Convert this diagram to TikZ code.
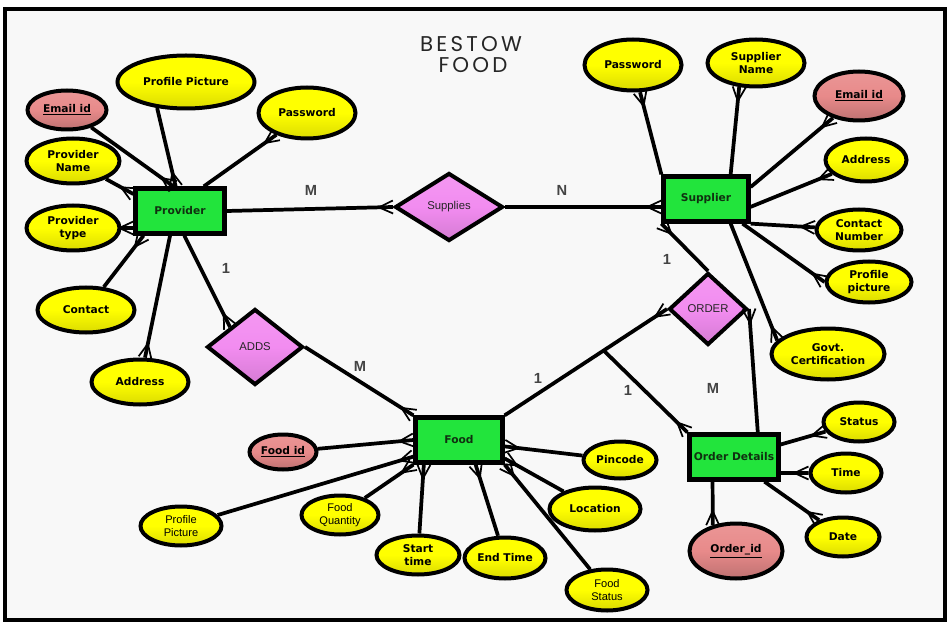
\documentclass[tikz,border=0pt]{standalone}
\usepackage{fontspec}
\setmainfont{DejaVu Sans}
\newfontfamily\arialf{Liberation Sans}
\newfontfamily\titlef{Poppins}[LetterSpace=15]
\usetikzlibrary{shapes.geometric,decorations.markings,calc}
\definecolor{bgc}{HTML}{F8F8F8}
\definecolor{entc}{HTML}{22E43C}
\definecolor{keyc}{HTML}{E88A8A}
\definecolor{relc}{HTML}{F28CF0}
\definecolor{lblc}{HTML}{444444}
\definecolor{enttext}{HTML}{103010}
\tikzset{
  attr/.style={ellipse, draw=black, line width=3pt, top color=yellow, bottom color=yellow!86!black, middle color=yellow, inner sep=0pt, align=center, text=black, font=\bfseries\fontsize{8}{9.5}\selectfont},
  attrr/.style={attr, font=\arialf\fontsize{8.3}{9.5}\selectfont},
  keyattr/.style={attr, top color=keyc!90!white, bottom color=keyc!82!black, middle color=keyc},
  entity/.style={rectangle, draw=black, line width=3.2pt, fill=entc, inner sep=0pt, align=center, text=enttext, font=\bfseries\fontsize{8}{9.5}\selectfont},
  rel/.style={diamond, draw=black, line width=3pt, top color=relc!90!white, bottom color=relc!88!black, middle color=relc, inner sep=0pt, text=black!85, font=\arialf\fontsize{8.5}{10}\selectfont},
  card/.style={text=lblc, font=\arialf\bfseries\fontsize{11}{13}\selectfont},
  titletext/.style={text=black!85, inner sep=0pt, anchor=base, text height=11.5pt, text depth=0pt, font=\titlef\fontsize{16}{16}\selectfont},
  conn/.style={line width=2.8pt},
  crowtip/.style={decorate, decoration={markings, mark=at position 0.9999 with {\draw[line width=1.3pt] (-14,0) -- (0,6.5) (-14,0) -- (0,-6.5);}}},
  crow/.style={conn, postaction={crowtip}}
}
\begin{document}
\begin{tikzpicture}[x=0.75pt,y=-0.75pt]
\useasboundingbox (0,0) rectangle (948,623);
\fill[white] (0,0) rectangle (948,623);
\draw[line width=3pt, fill=bgc] (5,9.5) rectangle (944.5,619.5);

\node[titletext] (title1) at (471,52) {BESTOW};
\node[titletext] (title2) at (473,73) {FOOD};

% Provider group
\node[entity, minimum width=66.75pt, minimum height=33.75pt] (prov) at (180,211) {Provider};
\node[keyattr, minimum width=59.25pt, minimum height=29.25pt] (email) at (67,110) {\underline{Email id}};
\node[attr, minimum width=102.75pt, minimum height=39.75pt] (pp) at (186,82) {Profile Picture};
\node[attr, minimum width=72.75pt, minimum height=38.25pt] (pwd) at (307,113) {Password};
\node[attr, minimum width=69.75pt, minimum height=33.75pt] (pname) at (73,161) {Provider\\Name};
\node[attr, minimum width=69.75pt, minimum height=33.75pt] (ptype) at (73,228) {Provider\\type};
\node[attr, minimum width=72.75pt, minimum height=33.75pt] (contact) at (86,310) {Contact};
\node[attr, minimum width=72.75pt, minimum height=33.75pt] (addr) at (140,382) {Address};

% Relationships
\node[rel, minimum width=81pt, minimum height=51pt] (sup) at (449,207) {Supplies};
\node[rel, minimum width=72pt, minimum height=57pt] (adds) at (255,347) {ADDS};
\node[rel, minimum width=58.5pt, minimum height=54pt] (order) at (708,309) {ORDER};

% Supplier group
\node[entity, minimum width=63.75pt, minimum height=33.75pt] (supr) at (706,199) {Supplier};
\node[attr, minimum width=72.75pt, minimum height=38.25pt] (spwd) at (633,65) {Password};
\node[attr, minimum width=72.75pt, minimum height=35.25pt] (sname) at (756,63) {Supplier\\Name};
\node[keyattr, minimum width=66.75pt, minimum height=36.75pt] (semail) at (859,96) {\underline{Email id}};
\node[attr, minimum width=60.75pt, minimum height=32.25pt] (saddr) at (866,160) {Address};
\node[attr, minimum width=63.75pt, minimum height=30.75pt] (scontact) at (859,230) {Contact\\Number};
\node[attr, minimum width=63.75pt, minimum height=30.75pt] (spp) at (869,282) {Profile\\picture};
\node[attr, minimum width=84.75pt, minimum height=38.25pt] (sgovt) at (828,354) {Govt.\\Certification};

% Food group
\node[entity, minimum width=65.25pt, minimum height=33.75pt] (food) at (459,440) {Food};
\node[keyattr, minimum width=50.25pt, minimum height=26.25pt] (fid) at (283,452) {\underline{Food id}};
\node[attrr, minimum width=60.75pt, minimum height=29.25pt] (fpp) at (181,526) {Profile\\Picture};
\node[attrr, minimum width=57.75pt, minimum height=29.25pt] (fqty) at (340,515) {Food\\Quantity};
\node[attr, minimum width=62.25pt, minimum height=29.25pt] (fstart) at (418,555) {Start\\time};
\node[attr, minimum width=60.75pt, minimum height=30.75pt] (fend) at (505,558) {End Time};
\node[attr, minimum width=54.75pt, minimum height=27.75pt] (fpin) at (620,460) {Pincode};
\node[attr, minimum width=68.25pt, minimum height=32.25pt] (floc) at (595,509) {Location};
\node[attrr, minimum width=60.75pt, minimum height=30.75pt] (fstatus) at (607,590) {Food\\Status};

% Order details group
\node[entity, minimum width=66.75pt, minimum height=33.75pt] (od) at (734,457) {Order Details};
\node[attr, minimum width=53.25pt, minimum height=29.25pt] (ostatus) at (859,422) {Status};
\node[attr, minimum width=53.25pt, minimum height=29.25pt] (otime) at (846,473) {Time};
\node[attr, minimum width=54.75pt, minimum height=29.25pt] (odate) at (843,537) {Date};
\node[keyattr, minimum width=69.75pt, minimum height=41.25pt] (oid) at (736,551) {\underline{Order\_id}};

% Provider connectors
\draw[crow] (email) -- (prov.105);
\draw[crow] (pp.222) -- (prov.100);
\draw[crow] (prov.46) -- (pwd);
\draw[crow] (pname) -- (prov.160);
\draw[crow] (ptype) -- (prov.200);
\draw[crow] (contact) -- (prov.214);
\draw[crow] (prov.248) -- (addr);
\draw[crow] (prov.280) -- (adds.north west);
\draw[crow] (prov.east) -- (sup.west);
\draw[crow] (sup.east) -- (sup.east -| supr.west);

% Supplier connectors
\draw[crow] (supr.north west) -- (spwd);
\draw[crow] (supr.45) -- (sname.235);
\draw[crow] (supr.15) -- (semail);
\draw[crow] (supr.-10) -- (saddr);
\draw[crow] (supr.south east) -- (scontact);
\draw[crow] (supr.-34) -- (spp.west);
\draw[crow] (supr.-45) -- (sgovt.165);
\draw[crow] (order.north) -- (supr.south west);

% Order connectors
\draw[crow] (food.north east) -- (order.west);
\coordinate (br) at ($(food.north east)!0.61!(order.west)$);
\draw[crow] (br) -- (od.north west);
\draw[crow] (od.46) -- (order.east);
\draw[crow] (adds.east) -- (food.north west);

% Food connectors
\draw[crow] (fid) -- (food.west);
\draw[crow] (fpp) -- (food.200);
\draw[crow] (fqty) -- (food.south west);
\draw[crow] (fstart) -- (food.215);
\draw[crow] (fend) -- (food.304);
\draw[crow] (fpin) -- (food.-8);
\draw[crow] (floc) -- (food.-22);
\draw[crow] (fstatus) -- (food.south east);

% Order details connectors
\draw[crow] (od.15) -- (ostatus);
\draw[crow] (od.-19) -- (otime.west);
\draw[crow] (od.-39) -- (odate);
\draw[crow] (od.229) -- (oid.132);

% Cardinalities
\node[card] (c1) at (311,190) {M};
\node[card] (c2) at (562,190) {N};
\node[card] (c3) at (226,268) {1};
\node[card] (c4) at (360,366) {M};
\node[card] (c5) at (667,259) {1};
\node[card] (c6) at (538,378) {1};
\node[card] (c7) at (628,390) {1};
\node[card] (c8) at (713,388) {M};
\end{tikzpicture}
\end{document}
